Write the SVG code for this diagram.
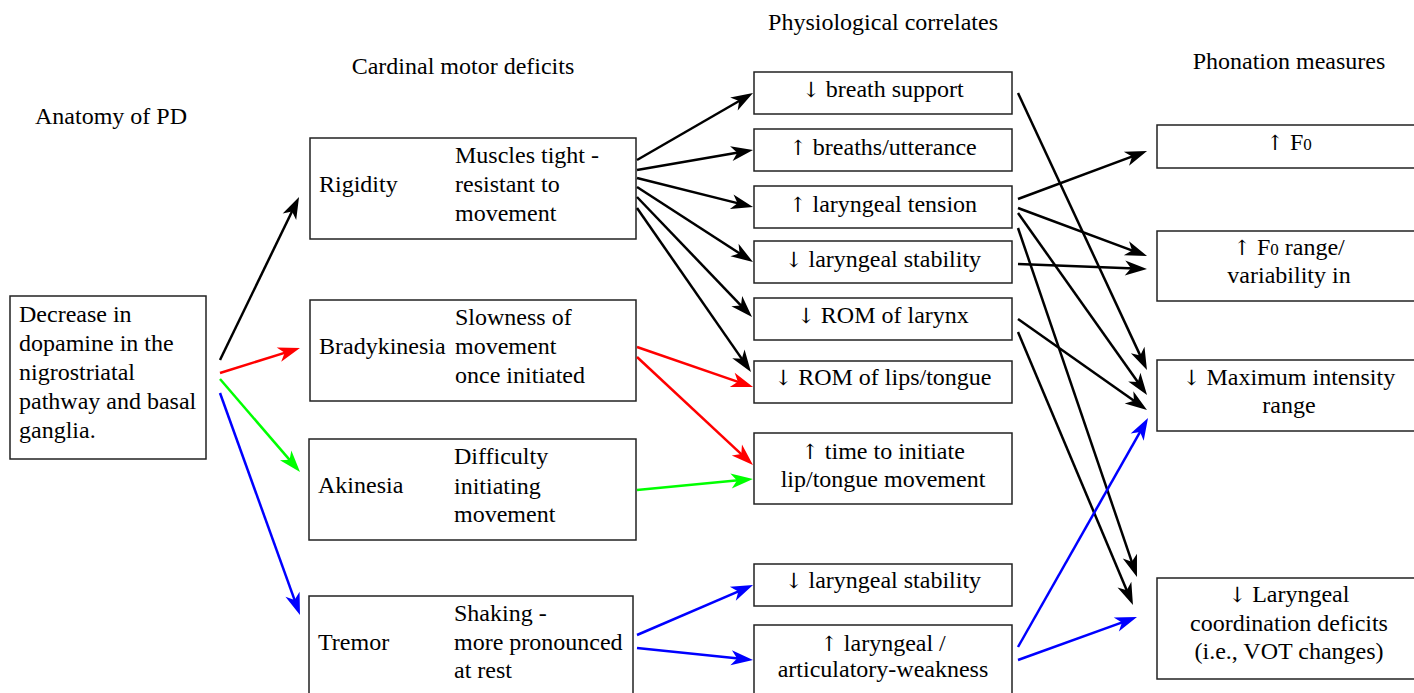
<svg xmlns="http://www.w3.org/2000/svg" width="1414" height="693" viewBox="0 0 1414 693">
<style>
text{font-family:"Liberation Serif","Times New Roman",serif;font-size:24px;fill:#000}
.c{text-anchor:middle}
.a{font-family:"DejaVu Serif","DejaVu Sans",serif;font-size:21px;fill:#000}
rect{fill:#fff;stroke:#222;stroke-width:1.5}
.k{stroke:#000;stroke-width:2.5;fill:none;marker-end:url(#ak)}
.r{stroke:#f00;stroke-width:2.5;fill:none;marker-end:url(#ar)}
.g{stroke:#0f0;stroke-width:2.5;fill:none;marker-end:url(#ag)}
.b{stroke:#00f;stroke-width:2.5;fill:none;marker-end:url(#ab)}
</style>
<defs>
<marker id="ak" viewBox="-11 -9 25 18" refX="0" refY="0" markerWidth="25" markerHeight="18" markerUnits="userSpaceOnUse" orient="auto"><path d="M12,0 L-10,-7.5 L-4,0 L-10,7.5 Z" fill="#000"/></marker>
<marker id="ar" viewBox="-11 -9 25 18" refX="0" refY="0" markerWidth="25" markerHeight="18" markerUnits="userSpaceOnUse" orient="auto"><path d="M12,0 L-10,-7.5 L-4,0 L-10,7.5 Z" fill="#f00"/></marker>
<marker id="ag" viewBox="-11 -9 25 18" refX="0" refY="0" markerWidth="25" markerHeight="18" markerUnits="userSpaceOnUse" orient="auto"><path d="M12,0 L-10,-7.5 L-4,0 L-10,7.5 Z" fill="#0f0"/></marker>
<marker id="ab" viewBox="-11 -9 25 18" refX="0" refY="0" markerWidth="25" markerHeight="18" markerUnits="userSpaceOnUse" orient="auto"><path d="M12,0 L-10,-7.5 L-4,0 L-10,7.5 Z" fill="#00f"/></marker>
</defs>
<rect x="0" y="0" width="1414" height="693" style="stroke:none"/>
<g id="headers">
<text x="35" y="124">Anatomy of PD</text>
<text class="c" x="463" y="74">Cardinal motor deficits</text>
<text class="c" x="883" y="30">Physiological correlates</text>
<text class="c" x="1289" y="69">Phonation measures</text>
</g>
<g id="n-dopamine"><rect x="10" y="296" width="196" height="163"/>
<text x="19" y="322">Decrease in</text><text x="19" y="351">dopamine in the</text><text x="19" y="380">nigrostriatal</text><text x="19" y="409">pathway and basal</text><text x="19" y="438">ganglia.</text></g>
<g id="n-rigidity"><rect x="310" y="138" width="326" height="101"/>
<text x="319" y="192">Rigidity</text><text x="455" y="163">Muscles tight -</text><text x="455" y="192">resistant to</text><text x="455" y="221">movement</text></g>
<g id="n-brady"><rect x="310" y="300" width="326" height="101"/>
<text x="319" y="354">Bradykinesia</text><text x="455" y="325">Slowness of</text><text x="455" y="354">movement</text><text x="455" y="383">once initiated</text></g>
<g id="n-akinesia"><rect x="309" y="439" width="327" height="101"/>
<text x="318" y="493">Akinesia</text><text x="454" y="464">Difficulty</text><text x="454" y="494">initiating</text><text x="454" y="522">movement</text></g>
<g id="n-tremor"><rect x="309" y="596" width="324" height="110"/>
<text x="318" y="650">Tremor</text><text x="454" y="621">Shaking -</text><text x="454" y="650">more pronounced</text><text x="454" y="678">at rest</text></g>
<g id="n-breath"><rect x="754" y="72" width="258" height="42"/><text class="c" x="883" y="97"><tspan class="a">↓&#xFE0E;</tspan> breath support</text></g>
<g id="n-breaths"><rect x="754" y="129" width="258" height="42"/><text class="c" x="883" y="155"><tspan class="a">↑&#xFE0E;</tspan> breaths/utterance</text></g>
<g id="n-tension"><rect x="754" y="186" width="258" height="42"/><text class="c" x="883" y="212"><tspan class="a">↑&#xFE0E;</tspan> laryngeal tension</text></g>
<g id="n-stab1"><rect x="754" y="241" width="258" height="42"/><text class="c" x="883" y="267"><tspan class="a">↓&#xFE0E;</tspan> laryngeal stability</text></g>
<g id="n-romlar"><rect x="754" y="298" width="258" height="42"/><text class="c" x="883" y="323"><tspan class="a">↓&#xFE0E;</tspan> ROM of larynx</text></g>
<g id="n-romlip"><rect x="754" y="361" width="258" height="42"/><text class="c" x="883" y="385"><tspan class="a">↓&#xFE0E;</tspan> ROM of lips/tongue</text></g>
<g id="n-time"><rect x="754" y="433" width="258" height="71"/><text class="c" x="883" y="459"><tspan class="a">↑&#xFE0E;</tspan> time to initiate</text><text class="c" x="883" y="487">lip/tongue movement</text></g>
<g id="n-stab2"><rect x="754" y="564" width="258" height="42"/><text class="c" x="883" y="588"><tspan class="a">↓&#xFE0E;</tspan> laryngeal stability</text></g>
<g id="n-weak"><rect x="754" y="625" width="258" height="80"/><text class="c" x="883" y="651"><tspan class="a">↑&#xFE0E;</tspan> laryngeal /</text><text class="c" x="883" y="677">articulatory-weakness</text></g>
<g id="n-f0"><rect x="1157" y="125" width="270" height="43"/><text class="c" x="1289" y="150"><tspan class="a">↑&#xFE0E;</tspan> F<tspan font-size="17">0</tspan></text></g>
<g id="n-f0range"><rect x="1157" y="231" width="270" height="70"/><text class="c" x="1289" y="255"><tspan class="a">↑&#xFE0E;</tspan> F<tspan font-size="17">0</tspan> range/</text><text class="c" x="1289" y="283">variability in</text></g>
<g id="n-maxint"><rect x="1157" y="360" width="270" height="71"/><text class="c" x="1289" y="385"><tspan class="a">↓&#xFE0E;</tspan> Maximum intensity</text><text class="c" x="1289" y="413">range</text></g>
<g id="n-coord"><rect x="1157" y="578" width="270" height="101"/><text class="c" x="1289" y="602"><tspan class="a">↓&#xFE0E;</tspan> Laryngeal</text><text class="c" x="1289" y="631">coordination deficits</text><text class="c" x="1289" y="659">(i.e., VOT changes)</text></g>
<g id="connectors">
<line class="k" x1="220" y1="360" x2="293.8" y2="207.8"/>
<line class="r" x1="220" y1="373" x2="288.5" y2="351.6"/>
<line class="g" x1="220" y1="379" x2="292.2" y2="462.9"/>
<line class="b" x1="220" y1="393" x2="295.9" y2="603.7"/>
<line class="k" x1="637" y1="160" x2="742.6" y2="99"/>
<line class="k" x1="637" y1="170" x2="741.2" y2="152"/>
<line class="k" x1="637" y1="178" x2="741.4" y2="204.1"/>
<line class="k" x1="637" y1="187" x2="742.9" y2="255.5"/>
<line class="k" x1="637" y1="197" x2="743.7" y2="308.3"/>
<line class="k" x1="637" y1="208" x2="744.1" y2="362.1"/>
<line class="r" x1="637" y1="347" x2="741.7" y2="383.1"/>
<line class="r" x1="637" y1="357" x2="744.2" y2="456.8"/>
<line class="g" x1="637" y1="490" x2="741" y2="480.1"/>
<line class="b" x1="637" y1="635" x2="742" y2="589.8"/>
<line class="b" x1="637" y1="648" x2="741.1" y2="658.8"/>
<line class="k" x1="1018" y1="93" x2="1141.9" y2="359.1"/>
<line class="k" x1="1018" y1="199" x2="1135.8" y2="155.2"/>
<line class="k" x1="1018" y1="208" x2="1135.8" y2="251.8"/>
<line class="k" x1="1018" y1="213" x2="1140.1" y2="385.2"/>
<line class="k" x1="1018" y1="228" x2="1133.1" y2="565.6"/>
<line class="k" x1="1018" y1="264" x2="1135" y2="268.5"/>
<line class="k" x1="1018" y1="319" x2="1137.2" y2="403.1"/>
<line class="k" x1="1018" y1="332" x2="1128.3" y2="593.9"/>
<line class="b" x1="1018" y1="647" x2="1142.1" y2="428.4"/>
<line class="b" x1="1018" y1="660" x2="1125.7" y2="621.1"/>
</g>
</svg>
